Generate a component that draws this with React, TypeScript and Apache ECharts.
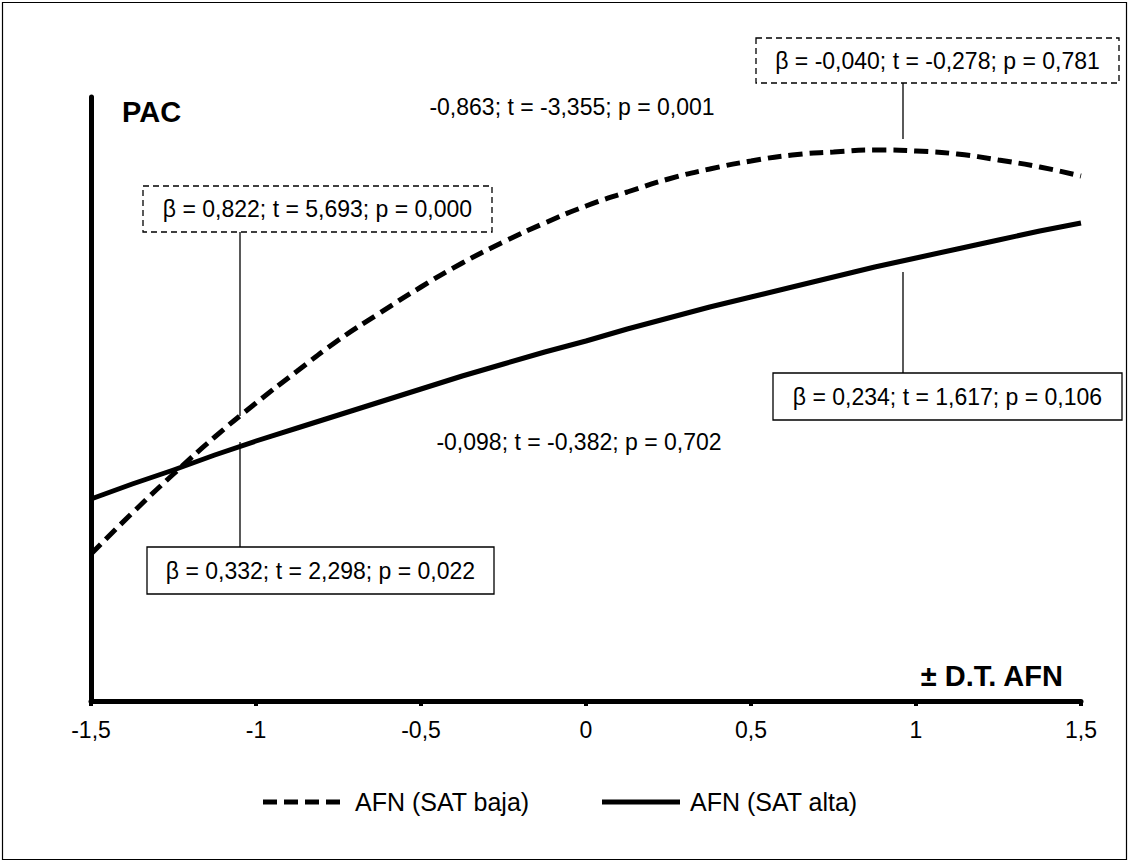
import React, { useEffect, useRef } from "react";
import * as echarts from "echarts";

const xValues = [
  -1.5, -1.375, -1.25, -1.125, -1, -0.875, -0.75, -0.625, -0.5, -0.375, -0.25, -0.125, 0,
  0.125, 0.25, 0.375, 0.5, 0.625, 0.75, 0.875, 1, 1.125, 1.25, 1.375, 1.5,
];
const satBaja = [
  1.47, 1.88, 2.27, 2.64, 2.98, 3.3, 3.61, 3.88, 4.14, 4.38, 4.59, 4.78, 4.95,
  5.09, 5.22, 5.32, 5.4, 5.46, 5.49, 5.51, 5.5, 5.47, 5.41, 5.34, 5.25,
];
const satAlta = [
  2.02, 2.17, 2.31, 2.46, 2.6, 2.73, 2.86, 2.99, 3.12, 3.25, 3.37, 3.49, 3.6,
  3.72, 3.83, 3.94, 4.04, 4.14, 4.24, 4.34, 4.43, 4.52, 4.61, 4.7, 4.78,
];
const seriesNames = ["AFN (SAT baja)", "AFN (SAT alta)"];
const xTicks = { min: -1.5, max: 1.5, interval: 0.5 };

const FONT = "'Liberation Sans', Arial, Helvetica, sans-serif";

export default function App() {
  const ref = useRef<HTMLDivElement>(null);
  useEffect(() => {
    document.body.style.margin = "0";
    const chart = echarts.init(ref.current!, null, { renderer: "svg" });
    const toPairs = (ys: number[]) => xValues.map((x, i) => [x, ys[i]]);
    const boxText = (
      cx: number,
      cy: number,
      w: number,
      h: number,
      text: string,
      dashed: boolean
    ) => [
      {
        type: "rect",
        shape: { x: cx - w / 2, y: cy - h / 2, width: w, height: h },
        style: {
          fill: "#fff",
          stroke: "#000",
          lineWidth: 1.3,
          lineDash: dashed ? [6, 4] : null,
        },
        z: 10,
      },
      {
        type: "text",
        x: cx,
        y: cy,
        style: {
          text,
          fill: "#000",
          font: `23px ${FONT}`,
          textAlign: "center",
          textVerticalAlign: "middle",
        },
        z: 11,
      },
    ];
    const vline = (x: number, y1: number, y2: number) => ({
      type: "line",
      shape: { x1: x, y1, x2: x, y2 },
      style: { stroke: "#000", lineWidth: 1.3 },
      z: 9,
    });
    const plainText = (cx: number, cy: number, text: string) => ({
      type: "text",
      x: cx,
      y: cy,
      style: {
        text,
        fill: "#000",
        font: `23px ${FONT}`,
        textAlign: "center",
        textVerticalAlign: "middle",
      },
      z: 11,
    });
    const legendText = (x: number, text: string) => ({
      type: "text",
      x,
      y: 802,
      style: {
        text,
        fill: "#000",
        font: `25px ${FONT}`,
        textAlign: "left",
        textVerticalAlign: "middle",
      },
    });

    chart.setOption({
      animation: false,
      backgroundColor: "#fff",
      grid: { left: 91, right: 49, top: 97, bottom: 162, containLabel: false },
      xAxis: {
        type: "value",
        min: xTicks.min,
        max: xTicks.max,
        interval: xTicks.interval,
        axisLine: { show: true, onZero: false, lineStyle: { color: "#000", width: 5 } },
        axisTick: { show: true, length: 5, lineStyle: { color: "#000", width: 4 } },
        splitLine: { show: false },
        axisLabel: {
          color: "#000",
          fontSize: 23,
          fontFamily: FONT,
          margin: 17,
          formatter: (v: number) => String(v).replace(".", ","),
        },
      },
      yAxis: {
        type: "value",
        min: 0,
        max: 6.04,
        axisLine: { show: true, onZero: false, lineStyle: { color: "#000", width: 5 } },
        axisTick: { show: false },
        axisLabel: { show: false },
        splitLine: { show: false },
      },
      series: [
        {
          name: seriesNames[0],
          type: "line",
          data: toPairs(satBaja),
          smooth: true,
          symbol: "none",
          lineStyle: { color: "#000", width: 5, type: [14, 7] },
          itemStyle: { color: "#000" },
        },
        {
          name: seriesNames[1],
          type: "line",
          data: toPairs(satAlta),
          smooth: false,
          symbol: "none",
          lineStyle: { color: "#000", width: 5, type: "solid", join: "round" },
          itemStyle: { color: "#000" },
        },
      ],
      graphic: [
        {
          type: "rect",
          shape: { x: 2.5, y: 2.5, width: 1124, height: 857 },
          style: { fill: "none", stroke: "#000", lineWidth: 1.2 },
          z: 1,
        },
        {
          type: "text",
          left: 122,
          top: 97,
          style: { text: "PAC", fill: "#000", font: `bold 29px ${FONT}` },
        },
        {
          type: "text",
          right: 1130 - 1064,
          top: 661,
          style: { text: "± D.T. AFN", fill: "#000", font: `bold 29px ${FONT}` },
        },
        plainText(572, 107, "-0,863; t = -3,355; p = 0,001"),
        plainText(579, 442, "-0,098; t = -0,382; p = 0,702"),
        vline(240, 232, 416),
        vline(240, 442, 547),
        vline(903, 272, 373),
        vline(903, 83, 139),
        ...boxText(317.5, 209, 349, 46, "β = 0,822; t = 5,693; p = 0,000", true),
        ...boxText(320.5, 570.5, 347, 47, "β = 0,332; t = 2,298; p = 0,022", false),
        ...boxText(947.5, 396.5, 349, 47, "β = 0,234; t = 1,617; p = 0,106", false),
        ...boxText(937.5, 60.5, 363, 45, "β = -0,040; t = -0,278; p = 0,781", true),
        {
          type: "line",
          shape: { x1: 263, y1: 802, x2: 340, y2: 802 },
          style: { stroke: "#000", lineWidth: 5, lineDash: [14, 7] },
        },
        legendText(355, seriesNames[0]),
        {
          type: "line",
          shape: { x1: 602, y1: 802, x2: 680, y2: 802 },
          style: { stroke: "#000", lineWidth: 5 },
        },
        legendText(690, seriesNames[1]),
      ],
    });
    return () => chart.dispose();
  }, []);
  return <div ref={ref} style={{ width: 1130, height: 863 }} />;
}
